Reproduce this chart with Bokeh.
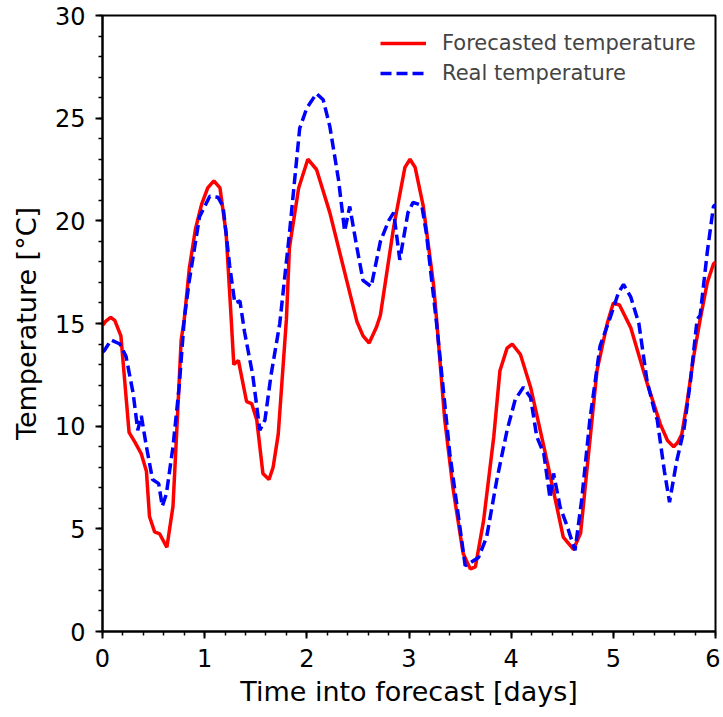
from bokeh.plotting import figure
from bokeh.models import Range1d, Legend, LegendItem, FixedTicker
from bokeh.embed import file_html
from bokeh.resources import INLINE

# Forecasted temperature (days, °C)
forecast_days = [0.00, 0.03, 0.08, 0.12, 0.18, 0.26, 0.32, 0.38, 0.43, 0.46, 0.51, 0.56, 0.63,
                 0.69, 0.74, 0.77, 0.80, 0.85, 0.91, 0.97, 1.03, 1.09, 1.15, 1.21, 1.26, 1.285,
                 1.33, 1.41, 1.46, 1.51, 1.57, 1.63, 1.67, 1.72, 1.80, 1.83, 1.92, 2.01, 2.095,
                 2.225, 2.39, 2.49, 2.55, 2.61, 2.68, 2.72, 2.85, 2.96, 3.01, 3.06, 3.14, 3.24,
                 3.27, 3.35, 3.43, 3.53, 3.60, 3.65, 3.73, 3.83, 3.89, 3.96, 4.01, 4.09, 4.19,
                 4.32, 4.42, 4.51, 4.61, 4.68, 4.74, 4.84, 4.94, 5.00, 5.06, 5.17, 5.33, 5.46,
                 5.53, 5.59, 5.63, 5.67, 5.72, 5.79, 5.85, 5.92, 5.98, 6.00]
forecast_temp = [14.9, 15.1, 15.3, 15.15, 14.4, 9.7, 9.2, 8.65, 7.8, 5.6, 4.85, 4.75, 4.1,
                 6.1, 11.1, 14.2, 15.2, 17.7, 19.6, 20.8, 21.6, 21.95, 21.6, 19.4, 15.2, 13.0,
                 13.2, 11.2, 11.1, 10.3, 7.7, 7.4, 8.0, 9.6, 15.2, 18.7, 21.6, 23.0, 22.5,
                 20.4, 17.1, 15.1, 14.4, 14.05, 14.8, 15.4, 19.7, 22.6, 23.0, 22.6, 20.7, 16.9,
                 15.2, 10.3, 7.0, 3.8, 3.05, 3.15, 5.4, 9.5, 12.7, 13.8, 14.0, 13.5, 11.9,
                 9.0, 6.7, 4.6, 4.0, 4.8, 7.8, 12.7, 15.0, 16.0, 15.9, 14.8, 12.1, 10.1,
                 9.3, 9.0, 9.2, 9.6, 11.1, 13.5, 15.2, 17.0, 17.9, 18.0]

# Real temperature (days, °C)
real_days = [0.00, 0.02, 0.085, 0.17, 0.23, 0.30, 0.345, 0.38, 0.43, 0.49, 0.55, 0.585, 0.625,
             0.69, 0.75, 0.80, 0.85, 0.95, 1.05, 1.13, 1.18, 1.245, 1.295, 1.345, 1.39, 1.47,
             1.54, 1.59, 1.65, 1.735, 1.83, 1.93, 2.00, 2.095, 2.16, 2.225, 2.31, 2.37, 2.42,
             2.49, 2.55, 2.63, 2.72, 2.80, 2.85, 2.91, 2.99, 3.04, 3.125, 3.17, 3.27, 3.40,
             3.55, 3.68, 3.76, 3.86, 3.96, 4.04, 4.12, 4.19, 4.25, 4.32, 4.38, 4.415, 4.48,
             4.55, 4.625, 4.69, 4.77, 4.87, 4.97, 5.05, 5.10, 5.17, 5.25, 5.33, 5.40, 5.43,
             5.50, 5.55, 5.62, 5.69, 5.755, 5.82, 5.85, 5.92, 5.98, 6.00]
real_temp = [13.6, 13.7, 14.2, 14.0, 13.4, 11.6, 9.8, 10.5, 9.0, 7.4, 7.2, 6.1, 6.7,
             9.0, 11.9, 15.2, 17.1, 20.2, 21.2, 21.15, 20.7, 17.8, 16.0, 16.1, 14.6, 12.5,
             9.8, 10.3, 12.5, 15.0, 19.4, 24.5, 25.5, 26.2, 25.9, 24.6, 22.0, 19.5, 20.7,
             18.7, 17.1, 16.8, 19.0, 20.0, 20.4, 18.1, 20.4, 20.9, 20.75, 19.4, 15.0, 8.65,
             3.2, 3.6, 4.6, 7.4, 9.8, 11.3, 11.9, 11.4, 9.5, 8.65, 6.5, 7.7, 6.05,
             5.1, 3.95, 6.4, 10.3, 13.9, 15.3, 16.5, 16.9, 16.3, 15.0, 12.2, 10.8, 10.3,
             7.8, 6.3, 8.3, 9.8, 12.2, 15.2, 15.4, 18.5, 20.7, 20.8]

x_ticks = [0, 1, 2, 3, 4, 5, 6]
y_ticks = [0, 5, 10, 15, 20, 25, 30]

FONT = "DejaVu Sans"

p = figure(width=720, height=712, output_backend="svg", toolbar_location=None,
           x_range=Range1d(0, 6), y_range=Range1d(0, 30),
           x_axis_label="Time into forecast [days]", y_axis_label="Temperature [°C]",
           min_border_left=102, min_border_right=5, min_border_top=15, min_border_bottom=81)

p.grid.visible = False
p.outline_line_color = "black"
p.outline_line_width = 2
p.background_fill_color = "white"
p.border_fill_color = "white"

for ax in (p.xaxis[0], p.yaxis[0]):
    ax.axis_line_width = 2
    ax.axis_line_color = "black"
    ax.major_tick_line_width = 2
    ax.minor_tick_line_width = 1.5
    ax.major_tick_in = 0
    ax.major_tick_out = 7
    ax.minor_tick_in = 0
    ax.minor_tick_out = 4
    ax.major_label_text_font = FONT
    ax.major_label_text_font_size = "24px"
    ax.major_label_text_color = "black"
    ax.axis_label_text_font = FONT
    ax.axis_label_text_font_size = "27px"
    ax.axis_label_text_font_style = "normal"
    ax.axis_label_text_color = "black"

p.xaxis[0].ticker = FixedTicker(ticks=x_ticks, minor_ticks=[i * 0.2 for i in range(31)])
p.yaxis[0].ticker = FixedTicker(ticks=y_ticks, minor_ticks=list(range(31)))
p.xaxis[0].major_label_standoff = 10
p.xaxis[0].axis_label_standoff = 6
p.yaxis[0].major_label_standoff = 10
p.yaxis[0].axis_label_standoff = 10

r1 = p.line(forecast_days, forecast_temp, line_color="red", line_width=3.5)
r2 = p.line(real_days, real_temp, line_color="blue", line_width=3.5, line_dash="11 5")

legend = Legend(items=[LegendItem(label="Forecasted temperature", renderers=[r1]),
                       LegendItem(label="Real temperature", renderers=[r2])],
                location="top_right")
legend.border_line_color = None
legend.background_fill_alpha = 0
legend.label_text_font = FONT
legend.label_text_font_size = "21px"
legend.glyph_width = 46
legend.glyph_height = 26
legend.label_height = 26
legend.label_width = 258
legend.label_standoff = 16
legend.spacing = 4
legend.margin = 15
legend.padding = 8
p.add_layout(legend, "center")

open("out.html", "w").write(file_html(p, INLINE))
